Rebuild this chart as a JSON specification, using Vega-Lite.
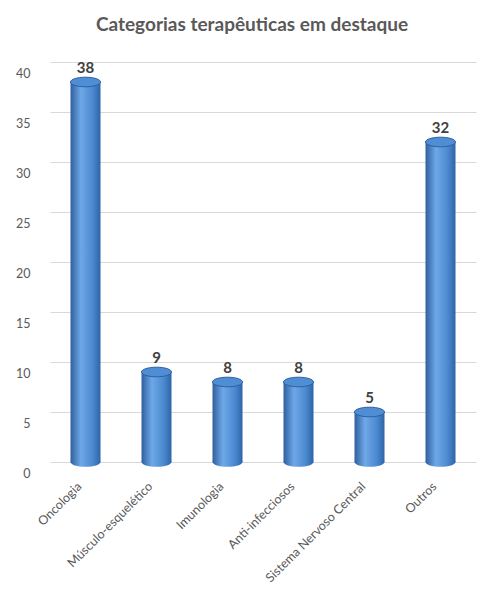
{
  "$schema": "https://vega.github.io/schema/vega-lite/v6.json",
  "width": 426,
  "height": 400,
  "autosize": {"type": "none"},
  "padding": {"left": 50, "top": 62, "right": 24, "bottom": 138},
  "background": "white",
  "title": {
    "text": "Categorias terapêuticas em destaque",
    "font": "Lato",
    "fontSize": 19,
    "fontWeight": "bold",
    "color": "#595959",
    "offset": 26,
    "dx": -11
  },
  "data": {
    "values": [
      {"categoria": "Oncologia", "valor": 38},
      {"categoria": "Músculo-esquelético", "valor": 9},
      {"categoria": "Imunologia", "valor": 8},
      {"categoria": "Anti-infecciosos", "valor": 8},
      {"categoria": "Sistema Nervoso Central", "valor": 5},
      {"categoria": "Outros", "valor": 32}
    ]
  },
  "encoding": {
    "x": {
      "field": "categoria",
      "type": "nominal",
      "sort": null,
      "title": null,
      "axis": {
        "labelAngle": -45,
        "labelAlign": "right",
        "labelBaseline": "middle",
        "labelPadding": 22,
        "labelOffset": -6,
        "labelFont": "Lato",
        "labelFontSize": 12.5,
        "labelColor": "#595959",
        "ticks": false,
        "domain": false
      }
    }
  },
  "layer": [
    {
      "mark": {
        "type": "bar",
        "width": 30,
        "color": {
          "gradient": "linear",
          "x1": 0, "y1": 0, "x2": 1, "y2": 0,
          "stops": [
            {"offset": 0, "color": "#2f5f9e"},
            {"offset": 0.35, "color": "#6ea8e8"},
            {"offset": 0.75, "color": "#4a88cf"},
            {"offset": 1, "color": "#2e64a6"}
          ]
        }
      },
      "encoding": {
        "y": {
          "field": "valor",
          "type": "quantitative",
          "title": null,
          "scale": {"domain": [0, 40]},
          "axis": {
            "values": [0, 5, 10, 15, 20, 25, 30, 35, 40],
            "labelOffset": 11,
            "labelPadding": 20,
            "labelFont": "Lato",
            "labelFontSize": 12.5,
            "labelColor": "#595959",
            "ticks": false,
            "domain": false,
            "gridColor": "#d9d9d9"
          }
        }
      }
    },
    {
      "mark": {
        "type": "point",
        "filled": true,
        "opacity": 1,
        "size": 900,
        "shape": "M-1,0A1,0.32,0,1,0,1,0A1,0.32,0,1,0,-1,0Z",
        "fill": {
          "gradient": "linear",
          "x1": 0, "y1": 0, "x2": 1, "y2": 0,
          "stops": [
            {"offset": 0, "color": "#2f5f9e"},
            {"offset": 0.35, "color": "#6ea8e8"},
            {"offset": 0.75, "color": "#4a88cf"},
            {"offset": 1, "color": "#2e64a6"}
          ]
        }
      },
      "encoding": {"y": {"datum": 0, "type": "quantitative"}}
    },
    {
      "mark": {
        "type": "point",
        "filled": true,
        "opacity": 1,
        "size": 900,
        "shape": "M-1,0A1,0.32,0,1,0,1,0A1,0.32,0,1,0,-1,0Z",
        "fill": "#4f8ed4",
        "stroke": "#2d5f9e",
        "strokeWidth": 1
      },
      "encoding": {"y": {"field": "valor", "type": "quantitative"}}
    },
    {
      "mark": {
        "type": "text",
        "baseline": "bottom",
        "dy": -6,
        "font": "Lato",
        "fontSize": 15,
        "fontWeight": "bold",
        "color": "#404040"
      },
      "encoding": {
        "y": {"field": "valor", "type": "quantitative"},
        "text": {"field": "valor", "type": "quantitative"}
      }
    }
  ],
  "config": {"view": {"stroke": null}}
}
